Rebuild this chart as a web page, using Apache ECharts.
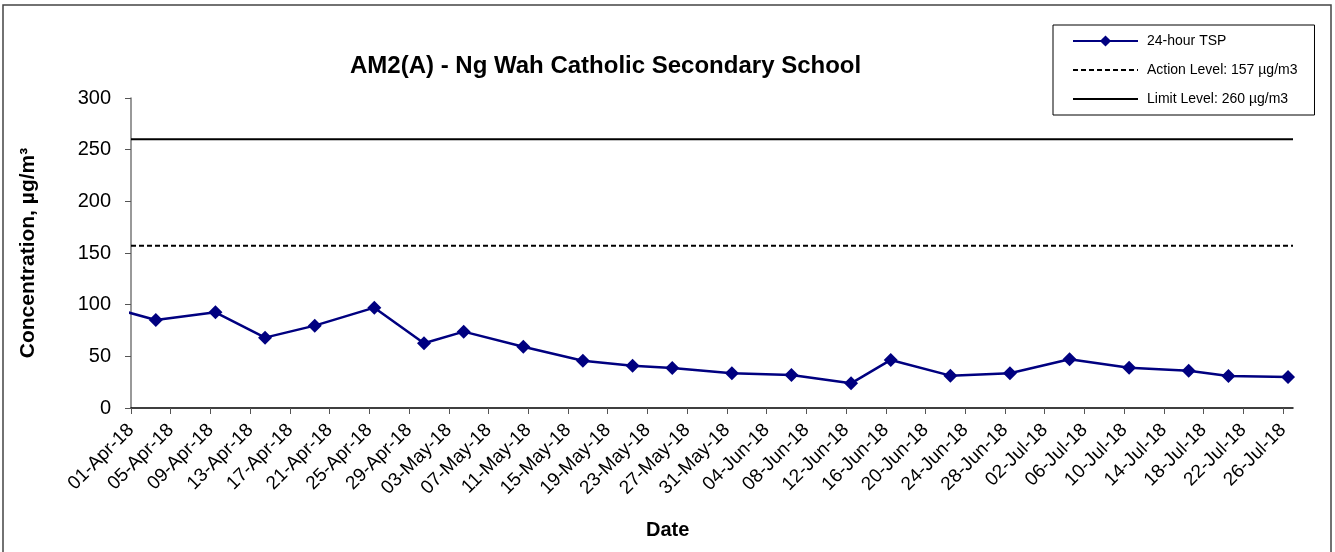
<!DOCTYPE html>
<html>
<head>
<meta charset="utf-8">
<script src="https://cdn.jsdelivr.net/npm/echarts@6/dist/echarts.min.js"></script>
<style>html,body{margin:0;padding:0;background:#fff}#c{width:1335px;height:552px}</style>
</head>
<body>
<div id="c"></div>
<script>
// ---- data ----
const sampleDates = ['2018-03-28','2018-04-03','2018-04-09','2018-04-14','2018-04-19','2018-04-25','2018-04-30','2018-05-04','2018-05-10','2018-05-16','2018-05-21','2018-05-25','2018-05-31','2018-06-06','2018-06-12','2018-06-16','2018-06-22','2018-06-28','2018-07-04','2018-07-10','2018-07-16','2018-07-20','2018-07-26'];
const tspValues = [101, 85.2, 92.6, 68.1, 79.7, 97.1, 62.6, 73.9, 59.3, 45.8, 41.0, 38.7, 33.6, 31.9, 23.9, 46.5, 31.3, 33.6, 47.1, 39.0, 36.1, 31.0, 30.0];
const actionLevel = 157;
const limitLevel = 260;
const tickLabels = ['01-Apr-18','05-Apr-18','09-Apr-18','13-Apr-18','17-Apr-18','21-Apr-18','25-Apr-18','29-Apr-18','03-May-18','07-May-18','11-May-18','15-May-18','19-May-18','23-May-18','27-May-18','31-May-18','04-Jun-18','08-Jun-18','12-Jun-18','16-Jun-18','20-Jun-18','24-Jun-18','28-Jun-18','02-Jul-18','06-Jul-18','10-Jul-18','14-Jul-18','18-Jul-18','22-Jul-18','26-Jul-18'];
const yTicks = [0, 50, 100, 150, 200, 250, 300];
const axisStartDate = '2018-04-01';
const tickStepDays = 4;
const axisEndDays = 117; // axis ends at the end of 26-Jul

// ---- helpers ----
const DAY = 86400000;
function utc(s){const p=s.split('-').map(Number);return Date.UTC(p[0],p[1]-1,p[2]);}
const t0 = utc(axisStartDate);
// Excel date axis: each date is a slot, point sits in the middle of its day
const tspData = sampleDates.map((d,i)=>[(utc(d)-t0)/DAY + 0.5, tspValues[i]]);
const tickValues = tickLabels.map((_,i)=>i*tickStepDays);

const FONT = "'Liberation Sans', Arial, sans-serif";
const chart = echarts.init(document.getElementById('c'), null, {renderer:'canvas'});
chart.setOption({
  animation:false,
  backgroundColor:'#fff',
  textStyle:{fontFamily:FONT},
  title:{
    text:'AM2(A) - Ng Wah Catholic Secondary School',
    left:345, top:49,
    textStyle:{fontFamily:FONT,fontSize:24,fontWeight:'bold',color:'#000'}
  },
  legend:{
    orient:'vertical',
    left:1053, top:25,
    padding:[9,17,9,19],
    itemWidth:65, itemHeight:14, itemGap:15,
    borderColor:'#000', borderWidth:1,
    textStyle:{fontFamily:FONT,fontSize:14,color:'#000',padding:[0,0,0,4]},
    data:[
      {name:'24-hour TSP'},
      {name:'Action Level: 157 µg/m3', itemStyle:{opacity:0}},
      {name:'Limit Level: 260 µg/m3', itemStyle:{opacity:0}}
    ]
  },
  grid:{left:131,right:42,top:98,bottom:144,containLabel:false},
  xAxis:{
    type:'value', min:0, max:axisEndDays,
    axisLine:{show:true,onZero:false,lineStyle:{color:'#000',width:1.5}},
    axisTick:{show:true,customValues:tickValues,length:6,lineStyle:{color:'#555',width:1}},
    axisLabel:{customValues:tickValues,rotate:45,fontSize:19,color:'#000',fontFamily:FONT,margin:19,
      padding:[14,0,0,0],
      formatter:v=>{const i=Math.round(v/tickStepDays);return tickLabels[i]||'';}},
    splitLine:{show:false}
  },
  yAxis:{
    type:'value', min:yTicks[0], max:yTicks[yTicks.length-1], interval:yTicks[1]-yTicks[0],
    name:'Concentration, µg/m³', nameLocation:'middle', nameGap:92,
    nameTextStyle:{fontFamily:FONT,fontSize:21,fontWeight:'bold',color:'#000'},
    axisLine:{show:true,lineStyle:{color:'#777',width:1.5}},
    axisTick:{show:true,inside:false,length:6,lineStyle:{color:'#555'}},
    axisLabel:{fontSize:20,color:'#000',fontFamily:FONT,margin:20},
    splitLine:{show:false}
  },
  graphic:[
    {type:'rect',shape:{x:3,y:5,width:1328,height:560},style:{fill:'none',stroke:'#444',lineWidth:1.5},silent:true},
    {type:'text',left:646,top:520,style:{text:'Date',font:"bold 20px 'Liberation Sans', Arial, sans-serif",fill:'#000'}}
  ],
  series:[
    {
      name:'24-hour TSP', type:'line', data:tspData, clip:true,
      symbol:'diamond', symbolSize:14, showAllSymbol:true,
      lineStyle:{color:'#000080',width:2.5},
      itemStyle:{color:'#000080'},
      z:5
    },
    {
      name:'Action Level: 157 µg/m3', type:'line', symbol:'none', clip:true,
      data:[[0,actionLevel],[axisEndDays,actionLevel]],
      lineStyle:{color:'#000',width:2,type:[5,3]},
      itemStyle:{color:'#000'}
    },
    {
      name:'Limit Level: 260 µg/m3', type:'line', symbol:'none', clip:true,
      data:[[0,limitLevel],[axisEndDays,limitLevel]],
      lineStyle:{color:'#000',width:2},
      itemStyle:{color:'#000'}
    }
  ]
});
</script>
</body>
</html>
